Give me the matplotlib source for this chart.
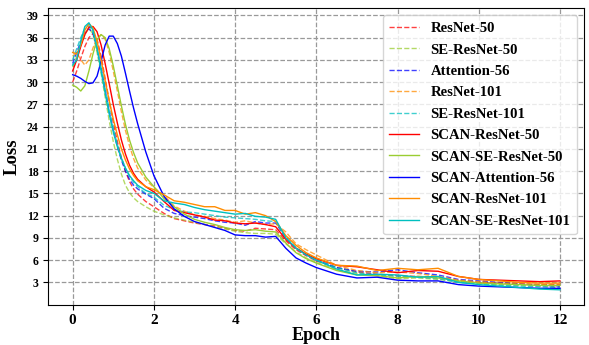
import numpy as np
import matplotlib
matplotlib.use("Agg")
import matplotlib.pyplot as plt

plt.rcParams['font.family'] = ['Liberation Serif', 'DejaVu Serif']
plt.rcParams['font.weight'] = 'bold'

epoch = [0, 0.1, 0.2, 0.3, 0.4, 0.5, 0.6, 0.7, 0.8, 0.9, 1.0, 1.1, 1.2, 1.3, 1.4, 1.5, 1.6, 1.8, 2.0,
         2.25, 2.5, 2.75, 3.0, 3.25, 3.5, 3.75, 4.0, 4.25, 4.5, 4.75, 5.0, 5.25, 5.5, 5.75, 6.0,
         6.5, 7.0, 7.5, 8.0, 8.5, 9.0, 9.5, 10.0, 10.5, 11.0, 11.5, 12.0]

resnet50 = [30.0, 31.5, 33.2, 34.8, 36.0, 36.5, 35.8, 33.5, 30.5, 27.5, 24.6, 22.0, 19.8, 18.0, 16.6, 15.6, 14.9, 13.9, 13.2,
            12.3, 11.6, 11.3, 11.0, 10.8, 10.6, 10.3, 10.0, 9.9, 10.3, 10.2, 10.1, 8.6, 7.4, 6.6, 5.9,
            5.0, 4.4, 4.1, 3.9, 3.8, 3.7, 3.2, 3.0, 2.9, 2.8, 2.7, 2.7]
se_resnet50 = [32.0, 33.5, 35.0, 36.4, 37.3, 36.5, 34.0, 31.2, 28.0, 24.8, 22.0, 19.6, 17.6, 16.1, 15.1, 14.4, 13.9, 13.2, 12.6,
               12.1, 11.7, 11.4, 11.1, 10.8, 10.5, 10.2, 9.9, 9.7, 9.6, 9.6, 9.5, 8.2, 7.1, 6.3, 5.7,
               4.7, 4.2, 3.9, 3.5, 3.6, 3.4, 3.1, 2.9, 2.7, 2.6, 2.5, 2.4]
attention56 = [32.5, 34.0, 35.5, 36.7, 37.2, 36.6, 34.6, 32.0, 29.0, 26.0, 23.5, 21.3, 19.5, 18.0, 16.9, 16.1, 15.6, 14.9, 14.3,
               13.0, 12.3, 12.0, 11.8, 11.6, 11.3, 11.1, 11.0, 10.7, 11.2, 11.0, 11.0, 9.0, 7.6, 6.7, 6.0,
               5.0, 4.5, 4.4, 4.7, 4.3, 4.0, 3.4, 3.2, 3.0, 2.8, 2.6, 2.5]
resnet101 = [33.5, 34.0, 33.0, 32.3, 33.0, 34.6, 35.9, 36.4, 35.8, 34.0, 31.5, 28.8, 26.0, 23.5, 21.4, 19.7, 18.4, 16.8, 15.8,
             14.7, 13.3, 12.6, 12.1, 11.9, 11.6, 11.4, 11.1, 11.3, 11.0, 10.8, 10.9, 9.8, 8.2, 7.4, 6.7,
             5.3, 4.6, 4.3, 4.4, 4.2, 3.8, 3.3, 3.1, 2.9, 2.8, 2.7, 2.6]
se_resnet101 = [33.0, 34.5, 36.0, 37.2, 37.6, 36.8, 34.8, 32.0, 29.2, 26.4, 23.8, 21.6, 19.8, 18.4, 17.3, 16.5, 15.9, 15.0, 14.5,
                13.4, 12.8, 12.5, 12.4, 12.2, 12.0, 11.8, 11.7, 11.6, 11.5, 11.3, 11.2, 9.0, 7.7, 6.8, 6.1,
                5.0, 4.3, 4.0, 3.8, 3.7, 3.5, 3.0, 2.8, 2.6, 2.5, 2.4, 2.3]
scan_resnet50 = [31.5, 33.0, 34.8, 36.4, 37.4, 37.5, 36.8, 35.0, 32.5, 29.8, 27.0, 24.5, 22.2, 20.3, 18.8, 17.7, 16.9, 15.9, 15.2,
                 13.9, 12.7, 12.4, 12.1, 11.8, 11.4, 11.3, 11.0, 10.9, 11.0, 10.8, 10.5, 8.8, 7.6, 6.8, 6.2,
                 5.3, 5.1, 4.7, 4.3, 4.6, 4.5, 3.8, 3.4, 3.3, 3.2, 3.1, 3.2]
scan_se_resnet50 = [29.6, 29.3, 28.8, 29.5, 31.5, 33.8, 35.7, 36.4, 36.0, 34.5, 32.2, 29.5, 26.8, 24.3, 22.2, 20.5, 19.1, 17.2, 15.9,
                    14.3, 13.2, 12.2, 11.5, 11.1, 10.8, 10.4, 10.1, 10.0, 10.1, 9.9, 9.8, 8.3, 7.0, 6.2, 5.6,
                    4.6, 4.0, 3.9, 3.6, 3.8, 3.6, 3.2, 2.9, 2.8, 2.7, 2.6, 2.6]
scan_attention56 = [31.0, 30.8, 30.5, 30.1, 29.8, 29.9, 30.8, 32.8, 35.0, 36.2, 36.2, 35.2, 33.5, 31.2, 28.8, 26.5, 24.4, 20.6, 17.4,
                    14.6, 12.9, 11.9, 11.2, 10.8, 10.4, 10.0, 9.4, 9.3, 9.3, 9.1, 9.2, 7.6, 6.3, 5.6, 5.0,
                    4.1, 3.6, 3.7, 3.3, 3.2, 3.2, 2.7, 2.5, 2.4, 2.3, 2.2, 2.2]
scan_resnet101 = [34.0, 33.8, 35.0, 37.0, 37.9, 37.3, 35.5, 33.0, 30.2, 27.5, 25.0, 22.9, 21.0, 19.5, 18.3, 17.4, 16.7, 15.9, 15.5,
                  14.8, 14.0, 13.8, 13.5, 13.2, 13.2, 12.7, 12.7, 12.2, 12.4, 12.0, 11.2, 9.3, 8.0, 7.0, 6.3,
                  5.3, 5.2, 4.6, 4.9, 4.7, 4.9, 3.8, 3.4, 3.2, 3.0, 2.9, 2.9]
scan_se_resnet101 = [32.3, 33.0, 35.5, 37.5, 38.0, 37.0, 34.5, 31.5, 28.5, 25.7, 23.3, 21.3, 19.7, 18.4, 17.4, 16.7, 16.1, 15.4, 15.0,
                     14.0, 13.7, 13.5, 13.1, 12.8, 12.6, 12.4, 12.2, 12.3, 11.9, 11.8, 11.5, 9.0, 7.6, 6.7, 6.0,
                     4.8, 4.0, 4.1, 4.0, 3.7, 3.8, 3.0, 2.7, 2.5, 2.3, 2.1, 2.0]

fig = plt.figure(figsize=(5.89, 3.45), dpi=100)
ax = fig.add_axes([0.082, 0.117, 0.91, 0.86])

# baselines en pointillés, versions SCAN en trait plein
ax.plot(epoch, resnet50, '--', color='red', lw=1, alpha=0.75, label='ResNet-50')
ax.plot(epoch, se_resnet50, '--', color='yellowgreen', lw=1, alpha=0.75, label='SE-ResNet-50')
ax.plot(epoch, attention56, '--', color='blue', lw=1, alpha=0.75, label='Attention-56')
ax.plot(epoch, resnet101, '--', color='darkorange', lw=1, alpha=0.75, label='ResNet-101')
ax.plot(epoch, se_resnet101, '--', color='c', lw=1, alpha=0.75, label='SE-ResNet-101')
ax.plot(epoch, scan_resnet50, '-', color='red', lw=1, label='SCAN-ResNet-50')
ax.plot(epoch, scan_se_resnet50, '-', color='yellowgreen', lw=1, label='SCAN-SE-ResNet-50')
ax.plot(epoch, scan_attention56, '-', color='blue', lw=1, label='SCAN-Attention-56')
ax.plot(epoch, scan_resnet101, '-', color='darkorange', lw=1, label='SCAN-ResNet-101')
ax.plot(epoch, scan_se_resnet101, '-', color='c', lw=1, label='SCAN-SE-ResNet-101')

ax.set_xlim(-0.6, 12.6)
ax.set_ylim(0, 40)
ax.set_xticks(range(0, 13, 2))
ax.set_yticks(range(3, 40, 3))
ax.tick_params(axis='x', labelsize=11)
ax.tick_params(axis='y', labelsize=8.5)
ax.grid(True, linestyle='--', color='#999999', lw=0.9)
ax.set_xlabel('Epoch', fontsize=13, fontweight='bold', labelpad=0)
ax.set_ylabel('Loss', fontsize=13.5, fontweight='bold', labelpad=4)
ax.legend(loc='upper right', fontsize=10.6, labelspacing=0.55, borderpad=0.45)

plt.savefig('out.png', dpi=100)
